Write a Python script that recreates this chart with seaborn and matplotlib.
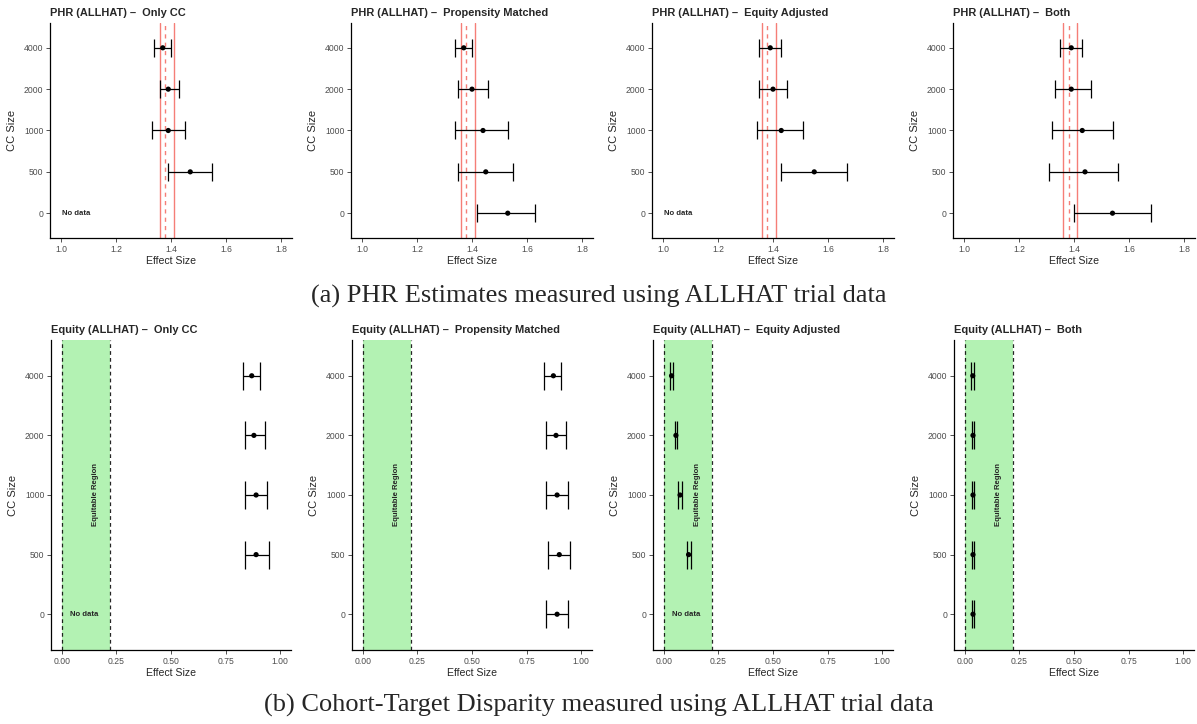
import numpy as np
import pandas as pd
import matplotlib
matplotlib.use('Agg')
import matplotlib.pyplot as plt
import seaborn as sns

sns.set_style('ticks')
plt.rcParams['font.family'] = ['Liberation Sans', 'DejaVu Sans']
plt.rcParams['axes.linewidth'] = 0.9

nan = np.nan

# ---- data ----
cc_sizes = ['0', '500', '1000', '2000', '4000']
methods = ['Only CC', 'Propensity Matched', 'Equity Adjusted', 'Both']

# PHR estimates (ALLHAT), one list per method, ordered like cc_sizes
phr_est = {
    'Only CC':            [nan, 1.47, 1.39, 1.39, 1.37],
    'Propensity Matched': [1.53, 1.45, 1.44, 1.40, 1.37],
    'Equity Adjusted':    [nan, 1.55, 1.43, 1.40, 1.39],
    'Both':               [1.54, 1.44, 1.43, 1.39, 1.39],
}
phr_lo = {
    'Only CC':            [nan, 1.39, 1.33, 1.36, 1.34],
    'Propensity Matched': [1.42, 1.35, 1.34, 1.35, 1.34],
    'Equity Adjusted':    [nan, 1.43, 1.34, 1.35, 1.35],
    'Both':               [1.40, 1.31, 1.32, 1.33, 1.35],
}
phr_hi = {
    'Only CC':            [nan, 1.55, 1.45, 1.43, 1.40],
    'Propensity Matched': [1.63, 1.55, 1.53, 1.46, 1.40],
    'Equity Adjusted':    [nan, 1.67, 1.51, 1.45, 1.43],
    'Both':               [1.68, 1.56, 1.54, 1.46, 1.43],
}
phr_trial_ci = [1.36, 1.41]
phr_trial_est = 1.38

# Cohort-target disparity (equity)
eq_est = {
    'Only CC':            [nan, 0.89, 0.89, 0.88, 0.87],
    'Propensity Matched': [0.89, 0.90, 0.89, 0.885, 0.873],
    'Equity Adjusted':    [nan, 0.113, 0.074, 0.055, 0.035],
    'Both':               [0.037, 0.037, 0.037, 0.037, 0.036],
}
eq_lo = {
    'Only CC':            [nan, 0.84, 0.84, 0.84, 0.83],
    'Propensity Matched': [0.84, 0.85, 0.84, 0.84, 0.83],
    'Equity Adjusted':    [nan, 0.104, 0.066, 0.049, 0.030],
    'Both':               [0.031, 0.031, 0.031, 0.031, 0.030],
}
eq_hi = {
    'Only CC':            [nan, 0.95, 0.94, 0.93, 0.91],
    'Propensity Matched': [0.94, 0.95, 0.94, 0.93, 0.91],
    'Equity Adjusted':    [nan, 0.124, 0.081, 0.060, 0.040],
    'Both':               [0.043, 0.043, 0.043, 0.043, 0.042],
}
equitable_region = [0.0, 0.22]

phr_xticks = [1.0, 1.2, 1.4, 1.6, 1.8]
eq_xticks = [0.0, 0.25, 0.5, 0.75, 1.0]

RED = '#F4675F'
GREEN = '#B3F2B3'
TICK_GRAY = '#4D4D4D'

W, H = 1197, 724
fig = plt.figure(figsize=(W / 100, H / 100), dpi=100)


def px_axes(left, top, width, height):
    return fig.add_axes([left / W, 1 - (top + height) / H, width / W, height / H])


def style_axes(ax, title, xticks, xlabels, xlim):
    ax.set_xlim(*xlim)
    ax.set_ylim(-0.6, len(cc_sizes) - 0.4)
    ax.set_xticks(xticks)
    ax.set_xticklabels(xlabels)
    ax.set_yticks(range(len(cc_sizes)))
    ax.set_yticklabels(cc_sizes)
    ax.tick_params(axis='both', labelsize=6.2, labelcolor=TICK_GRAY, color='#333333',
                   length=2.8, width=0.6, pad=2)
    ax.set_xlabel('Effect Size', fontsize=7.6, labelpad=1.5)
    ax.set_ylabel('CC Size', fontsize=8, labelpad=5)
    ax.set_title(title, loc='left', fontsize=7.9, fontweight='bold', pad=5)
    sns.despine(ax=ax)
    for s in ['left', 'bottom']:
        ax.spines[s].set_color('black')


def draw_intervals(ax, est, lo, hi, capsize):
    df = pd.DataFrame({'size': cc_sizes, 'est': est, 'lo': lo, 'hi': hi})
    df['pos'] = np.arange(len(cc_sizes))
    df = df.dropna()
    ax.errorbar(df['est'], df['pos'], xerr=[df['est'] - df['lo'], df['hi'] - df['est']],
                fmt='none', ecolor='black', elinewidth=0.9, capsize=capsize,
                capthick=0.9, zorder=3)
    sns.scatterplot(data=df, x='est', y='pos', ax=ax, color='black', s=14,
                    edgecolor='none', zorder=4, legend=False)


lefts = [50, 351, 652, 953]

# ---- (a) PHR row ----
for left, m in zip(lefts, methods):
    ax = px_axes(left, 23, 242, 215)
    for v in phr_trial_ci:
        ax.axvline(v, color=RED, lw=1.0, alpha=0.85, zorder=1)
    ax.axvline(phr_trial_est, color=RED, lw=1.0, ls=(0, (3, 3)), alpha=0.85, zorder=1)
    draw_intervals(ax, phr_est[m], phr_lo[m], phr_hi[m], capsize=6.8)
    if np.isnan(phr_est[m][0]):
        ax.text(1.055, 0, 'No data', ha='center', va='center', fontsize=5.6,
                fontweight='bold')
    style_axes(ax, f'PHR (ALLHAT) \u2013  {m}', phr_xticks,
               ['1.0', '1.2', '1.4', '1.6', '1.8'], (0.96, 1.84))

# ---- (b) Equity row ----
for left, m in zip(lefts, methods):
    ax = px_axes(left + 1, 340, 240, 310)
    ax.axvspan(*equitable_region, color=GREEN, lw=0, zorder=0)
    for v in equitable_region:
        ax.axvline(v, color='black', lw=0.9, ls=(0, (3, 2.5)), alpha=0.85, zorder=1)
    ax.text(0.155, 2, 'Equitable Region', rotation=90, ha='center', va='center',
            fontsize=5.6, fontweight='bold', zorder=2)
    draw_intervals(ax, eq_est[m], eq_lo[m], eq_hi[m], capsize=10.3)
    if np.isnan(eq_est[m][0]):
        ax.text(0.1, 0, 'No data', ha='center', va='center', fontsize=5.6,
                fontweight='bold')
    style_axes(ax, f'Equity (ALLHAT) \u2013  {m}', eq_xticks,
               ['0.00', '0.25', '0.50', '0.75', '1.00'], (-0.05, 1.05))

# ---- captions ----
fig.text(0.5, 1 - 296 / H, '(a) PHR Estimates measured using ALLHAT trial data',
         ha='center', va='center', fontsize=19, family='Liberation Serif')
fig.text(0.5, 1 - 705 / H, '(b) Cohort-Target Disparity measured using ALLHAT trial data',
         ha='center', va='center', fontsize=19, family='Liberation Serif')

fig.savefig('out.png', dpi=100)
